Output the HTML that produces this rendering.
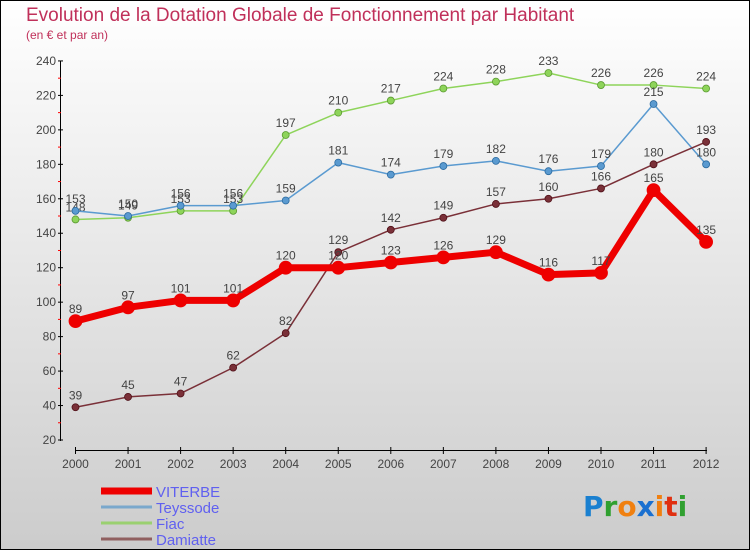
<!DOCTYPE html>
<html><head><meta charset="utf-8"><style>
body{margin:0}
#c{width:748px;height:548px;border:1px solid #000;background:linear-gradient(#fff,#ccc);position:relative;font-family:"Liberation Sans",sans-serif;overflow:hidden}
</style></head><body>
<div id="c">
<svg id="s" width="748" height="548"></svg>
</div>
<script>
const years=[2000,2001,2002,2003,2004,2005,2006,2007,2008,2009,2010,2011,2012];
const viterbe=[89,97,101,101,120,120,123,126,129,116,117,165,135];
const teyssode=[153,150,156,156,159,181,174,179,182,176,179,215,180];
const fiac=[148,149,153,153,197,210,217,224,228,233,226,226,224];
const damiatte=[39,45,47,62,82,129,142,149,157,160,166,180,193];
const yTicks=[20,40,60,80,100,120,140,160,180,200,220,240];
const NS="http://www.w3.org/2000/svg";
const s=document.getElementById('s');
const X=i=>74.5+i*52.55, Y=v=>439-(v-20)*1.723;
function el(t,a,p){const e=document.createElementNS(NS,t);for(const k in a)e.setAttribute(k,a[k]);(p||s).appendChild(e);return e;}
function tx(x,y,str,o){const e=el('text',Object.assign({x:x,y:y,'font-size':12,fill:'#444'},o||{}));e.textContent=str;return e;}
let t=tx(25,20,'Evolution de la Dotation Globale de Fonctionnement par Habitant',{'font-size':19,fill:'#c0305a'});

t=tx(25,38,'(en € et par an)',{'font-size':12,fill:'#c0305a'});

// axes
el('line',{x1:59.5,y1:60,x2:59.5,y2:440,stroke:'#000'});
el('line',{x1:74,y1:449.5,x2:706,y2:449.5,stroke:'#000'});
yTicks.forEach(v=>{el('line',{x1:57,x2:62,y1:Y(v),y2:Y(v),stroke:'#000'});
 if(v<240)el('line',{x1:57,x2:60,y1:Y(v+10),y2:Y(v+10),stroke:'red'});
 const e=tx(55,Y(v)+4,String(v),{'text-anchor':'end'});});
years.forEach((y,i)=>{el('line',{x1:X(i),x2:X(i),y1:446,y2:453,stroke:'#000'});
 const e=tx(X(i),467,String(y),{'text-anchor':'middle'});});
function series(d,col,w,r,name,lc){
 const g=el('g',{});
 el('polyline',{points:d.map((v,i)=>X(i)+','+Y(v)).join(' '),fill:'none',stroke:col,'stroke-width':w,'stroke-linejoin':'round'},g);
 d.forEach((v,i)=>{const c=el('circle',{cx:X(i),cy:Y(v),r:r,fill:col,stroke:lc,'stroke-width':0.8},g);
  tx(X(i),Y(v)-8,String(v),{'text-anchor':'middle',fill:'#444'});});
}
series(fiac,'#8ed45a',1.5,3.5,'fiac','#5a9a30');
series(teyssode,'#5a9ad0',1.5,3.5,'teyssode','#2a6aa0');
series(damiatte,'#7a3038',1.5,3.5,'damiatte','#501018');
series(viterbe,'#ee0000',7,6.5,'viterbe','#ee0000');
// legend
const leg=[['VITERBE','#ee0000',7],['Teyssode','#7aa8cc',3],['Fiac','#9ad070',3],['Damiatte','#906060',3]];
leg.forEach((l,i)=>{const y=490+i*16;const g=el('g',{});
 el('line',{x1:100,x2:151,y1:y,y2:y,stroke:l[1],'stroke-width':l[2]},g);
 const e=tx(155,y+6,l[0],{'font-size':15,fill:'#6060f0'});g.appendChild(e);});
// logo
const lg=el('text',{x:582,y:515,'font-size':28,'font-weight':'bold','font-family':'DejaVu Sans'});

[['P','#1a80d0'],['r','#30a030'],['o','#f08010'],['x','#1a70d0'],['i','#f08010'],['t','#e03010'],['i','#30a030']].forEach(p=>{const sp=el('tspan',{fill:p[1]},lg);sp.textContent=p[0];});
</script>
</body></html>
